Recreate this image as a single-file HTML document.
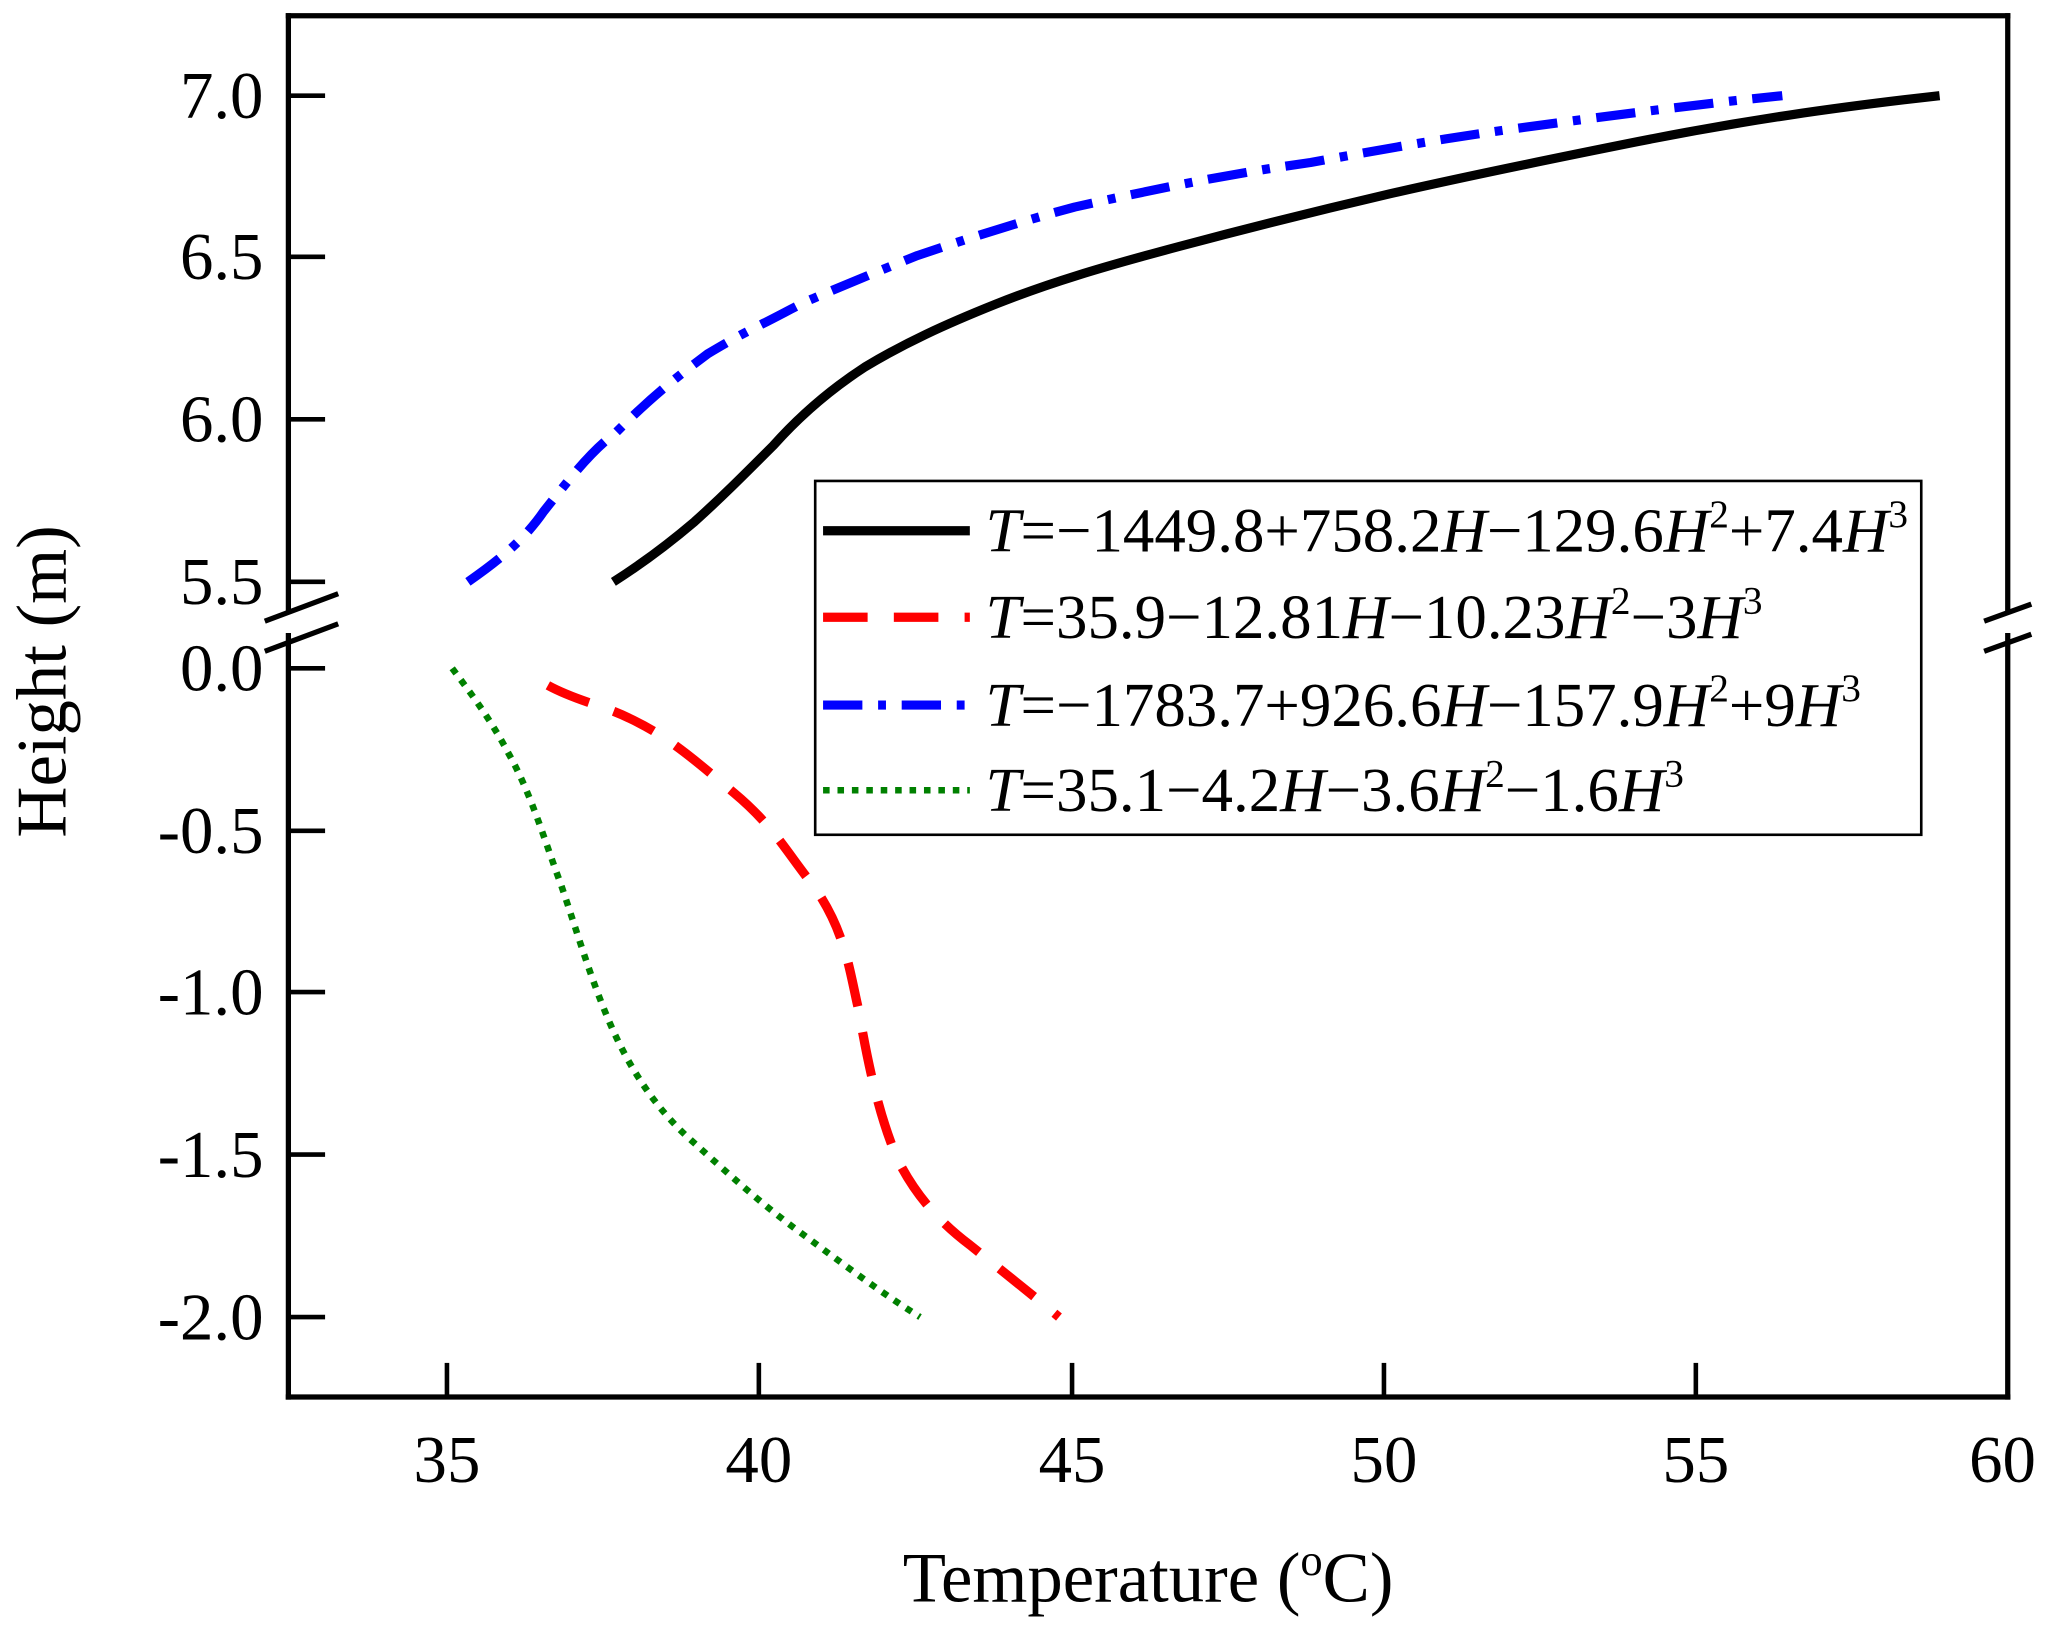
<!DOCTYPE html>
<html><head><style>html,body{margin:0;padding:0;background:#fff}svg{display:block}</style></head>
<body>
<svg width="2055" height="1625" viewBox="0 0 1568 1240" xmlns="http://www.w3.org/2000/svg" font-family="'Liberation Serif', serif">
<rect width="1568" height="1240" fill="#fff"/>
<g stroke="#000" stroke-width="4" fill="none">
<line x1="218" y1="12" x2="1534" y2="12"/>
<line x1="218" y1="1066" x2="1534" y2="1066"/>
<line x1="220" y1="10" x2="220" y2="468"/>
<line x1="220" y1="483" x2="220" y2="1068"/>
<line x1="1532" y1="10" x2="1532" y2="468"/>
<line x1="1532" y1="483" x2="1532" y2="1068"/>
<line x1="202" y1="474" x2="258" y2="453"/>
<line x1="202" y1="497" x2="258" y2="476"/>
<line x1="1514" y1="474" x2="1550" y2="461"/>
<line x1="1514" y1="497" x2="1550" y2="484"/>
<g stroke-width="3.5">
<line x1="220" y1="73" x2="248" y2="73"/><line x1="220" y1="196" x2="248" y2="196"/>
<line x1="220" y1="320" x2="248" y2="320"/><line x1="220" y1="444" x2="248" y2="444"/>
<line x1="220" y1="510" x2="248" y2="510"/><line x1="220" y1="634" x2="248" y2="634"/>
<line x1="220" y1="757" x2="248" y2="757"/><line x1="220" y1="881" x2="248" y2="881"/>
<line x1="220" y1="1005" x2="248" y2="1005"/>
<line x1="341" y1="1066" x2="341" y2="1040"/><line x1="579" y1="1066" x2="579" y2="1040"/>
<line x1="818" y1="1066" x2="818" y2="1040"/><line x1="1056" y1="1066" x2="1056" y2="1040"/>
<line x1="1294" y1="1066" x2="1294" y2="1040"/>
</g>
</g>
<g font-size="51" text-anchor="end" fill="#000">
<text x="201" y="90">7.0</text><text x="201" y="213">6.5</text><text x="201" y="337">6.0</text>
<text x="201" y="461">5.5</text><text x="201" y="527">0.0</text><text x="201" y="651">-0.5</text>
<text x="201" y="774">-1.0</text><text x="201" y="898">-1.5</text><text x="201" y="1022">-2.0</text>
</g>
<g font-size="51" text-anchor="middle" fill="#000">
<text x="341" y="1131">35</text><text x="579" y="1131">40</text><text x="818" y="1131">45</text>
<text x="1056" y="1131">50</text><text x="1294" y="1131">55</text><text x="1528" y="1131">60</text>
<text x="876" y="1222" font-size="54">Temperature (<tspan font-size="34" dy="-20">o</tspan><tspan dy="20">C)</tspan></text>
<text transform="translate(50,520) rotate(-90)" font-size="54">Height (m)</text>
</g>
<g fill="none" stroke-width="7" stroke-linejoin="round">
<path stroke="#0000ff" stroke-dasharray="30,12,6,12" d="M357,444 C380,428 400,412 415,390 C435,365 450,345 470,330 C500,300 520,285 540,270 C560,258 570,253 580,248 C600,238 610,232 620,228 C650,215 680,203 700,195 C750,178 790,166 820,158 C900,140 950,131 1000,124 C1060,113 1100,106 1150,99 C1230,88 1300,79 1360,73"/>
<path stroke="#000" d="M468,444 C490,430 510,415 530,398 C550,380 565,365 590,340 C615,312 640,293 660,280 C690,262 720,248 760,232 C800,216 840,204 900,188 C960,172 1000,162 1060,148 C1130,132 1200,118 1250,108 C1330,92 1400,82 1480,73"/>
<path stroke="#ff0000" stroke-dasharray="34,20" d="M418,523 C440,535 460,538 480,548 C510,562 530,580 560,605 C590,630 600,650 620,675 C645,710 648,740 655,770 C662,810 670,850 685,885 C700,915 720,935 740,950 C765,970 790,990 808,1005"/>
<path stroke="#008000" stroke-width="5" stroke-dasharray="5,6" d="M345,510 C360,530 375,550 388,575 C405,605 415,640 428,675 C440,710 450,745 465,780 C480,815 500,845 525,868 C555,895 580,918 610,940 C640,962 670,985 702,1005"/>
</g>
<rect x="622" y="367" width="844" height="270" fill="none" stroke="#000" stroke-width="2"/>
<g fill="none" stroke-width="7">
<line x1="628" y1="405" x2="740" y2="405" stroke="#000"/>
<line x1="628" y1="471" x2="740" y2="471" stroke="#ff0000" stroke-dasharray="34,20"/>
<line x1="628" y1="538" x2="740" y2="538" stroke="#0000ff" stroke-dasharray="30,12,6,12"/>
<line x1="628" y1="603" x2="740" y2="603" stroke="#008000" stroke-width="5" stroke-dasharray="5,6"/>
</g>
<g font-size="48" fill="#000">
<text x="752" y="421"><tspan font-style="italic">T</tspan>=−1449.8+758.2<tspan font-style="italic">H</tspan>−129.6<tspan font-style="italic">H</tspan><tspan font-size="30" dy="-19">2</tspan><tspan dy="19">+7.4</tspan><tspan font-style="italic">H</tspan><tspan font-size="30" dy="-19">3</tspan></text>
<text x="752" y="487"><tspan font-style="italic">T</tspan>=35.9−12.81<tspan font-style="italic">H</tspan>−10.23<tspan font-style="italic">H</tspan><tspan font-size="30" dy="-19">2</tspan><tspan dy="19">−3</tspan><tspan font-style="italic">H</tspan><tspan font-size="30" dy="-19">3</tspan></text>
<text x="752" y="554"><tspan font-style="italic">T</tspan>=−1783.7+926.6<tspan font-style="italic">H</tspan>−157.9<tspan font-style="italic">H</tspan><tspan font-size="30" dy="-19">2</tspan><tspan dy="19">+9</tspan><tspan font-style="italic">H</tspan><tspan font-size="30" dy="-19">3</tspan></text>
<text x="752" y="619"><tspan font-style="italic">T</tspan>=35.1−4.2<tspan font-style="italic">H</tspan>−3.6<tspan font-style="italic">H</tspan><tspan font-size="30" dy="-19">2</tspan><tspan dy="19">−1.6</tspan><tspan font-style="italic">H</tspan><tspan font-size="30" dy="-19">3</tspan></text>
</g>
</svg>
</body></html>
